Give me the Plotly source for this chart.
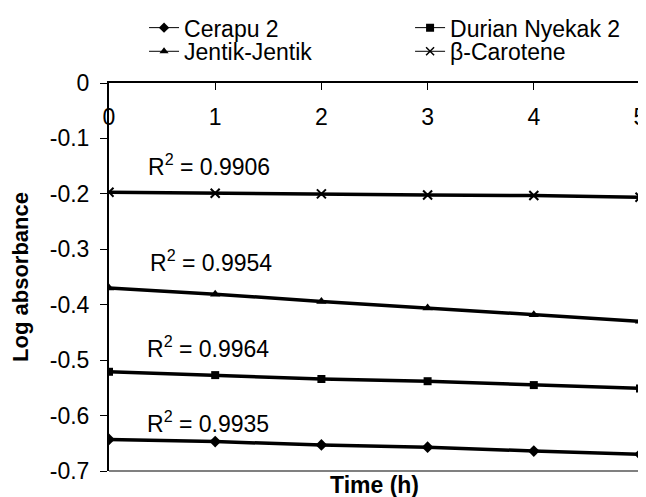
import plotly.graph_objects as go

time_h = [0, 1, 2, 3, 4, 5]
cerapu = [-0.643, -0.647, -0.653, -0.657, -0.664, -0.670]
durian = [-0.521, -0.527, -0.534, -0.538, -0.545, -0.551]
jentik = [-0.370, -0.381, -0.394, -0.406, -0.418, -0.430]
beta = [-0.197, -0.199, -0.200, -0.202, -0.203, -0.206]

series_names = ["Cerapu 2", "Durian Nyekak 2", "Jentik-Jentik", "β-Carotene"]
series_values = [cerapu, durian, jentik, beta]
series_symbols = ["diamond", "square", "triangle-up", "x-thin"]
series_legend = ["legend", "legend2", "legend3", "legend4"]

r2_labels = ["R<sup>2</sup> = 0.9935", "R<sup>2</sup> = 0.9964", "R<sup>2</sup> = 0.9954", "R<sup>2</sup> = 0.9906"]
r2_pos = [(0.34, -0.611), (0.34, -0.477), (0.37, -0.322), (0.35, -0.148)]

y_tickvals = [0, -0.1, -0.2, -0.3, -0.4, -0.5, -0.6, -0.7]
y_ticktext = ["0", "-0.1", "-0.2", "-0.3", "-0.4", "-0.5", "-0.6", "-0.7"]

FONT = "Liberation Sans, Arial, sans-serif"

fig = go.Figure()
for name, vals, sym in zip(series_names, series_values, series_symbols):
    msize = 9 if sym != "square" else 8
    fig.add_trace(go.Scatter(
        x=time_h, y=vals, mode="lines+markers", name=name, showlegend=False,
        line=dict(color="black", width=3.5),
        marker=dict(symbol=sym, size=msize, color="black",
                    line=dict(color="black", width=2 if sym == "x-thin" else 0)),
    ))
# legend entries (thin line, like the reference)
for name, sym, lg in zip(series_names, series_symbols, series_legend):
    fig.add_trace(go.Scatter(
        x=[None], y=[None], mode="lines+markers", name=name, legend=lg,
        line=dict(color="black", width=1),
        marker=dict(symbol=sym, size=8, color="black",
                    line=dict(color="black", width=1.5 if sym == "x-thin" else 0)),
    ))

for txt, (ax, ay) in zip(r2_labels, r2_pos):
    fig.add_annotation(x=ax, y=ay, xref="x", yref="y", text=txt, showarrow=False,
                       xanchor="left", yanchor="middle",
                       font=dict(family=FONT, size=23, color="black"))

fig.add_annotation(x=0.5, y=-0.036, xref="paper", yref="paper", text="<b>Time (h)</b>",
                   showarrow=False, xanchor="center", yanchor="middle",
                   font=dict(family=FONT, size=23, color="black"))

# gray right and bottom plot borders
fig.add_shape(type="line", xref="paper", yref="paper", x0=1, x1=1, y0=0, y1=1,
              line=dict(color="#808080", width=2))
fig.add_shape(type="line", xref="paper", yref="paper", x0=0, x1=1, y0=0, y1=0,
              line=dict(color="#808080", width=2))

legend_common = dict(orientation="v", xanchor="left", yanchor="top",
                     font=dict(family=FONT, size=23, color="black"),
                     bgcolor="rgba(0,0,0,0)", itemwidth=30, tracegroupgap=0)

# page body has an 8px default margin, so the figure is 8px smaller than the window
fig.update_layout(
    width=638, height=489,
    margin=dict(l=101, r=6, t=75, b=26, autoexpand=False),
    paper_bgcolor="white", plot_bgcolor="white",
    font=dict(family=FONT, color="black"),
    showlegend=True,
    legend=dict(x=0.066, y=1.198, **legend_common),
    legend2=dict(x=0.567, y=1.198, **legend_common),
    legend3=dict(x=0.066, y=1.137, **legend_common),
    legend4=dict(x=0.567, y=1.137, **legend_common),
    xaxis=dict(range=[0, 5], side="top", tickvals=time_h, ticks="inside", ticklen=7,
               tickcolor="black", showline=True, linecolor="black", linewidth=2,
               showgrid=False, zeroline=False, ticklabelposition="inside",
               ticklabeloverflow="allow", ticklabelstandoff=21, automargin=False,
               tickfont=dict(family=FONT, size=23, color="black")),
    yaxis=dict(range=[-0.7, 0], tickvals=y_tickvals, ticktext=y_ticktext,
               ticks="outside", ticklen=7, tickcolor="black", showline=True,
               linecolor="black", linewidth=2, showgrid=False, zeroline=False,
               ticklabelstandoff=6, automargin=False,
               tickfont=dict(family=FONT, size=23, color="black"),
               title=dict(text="<b>Log absorbance</b>", standoff=16,
                          font=dict(family=FONT, size=22, color="black"))),
)

fig.write_html("out.html")
